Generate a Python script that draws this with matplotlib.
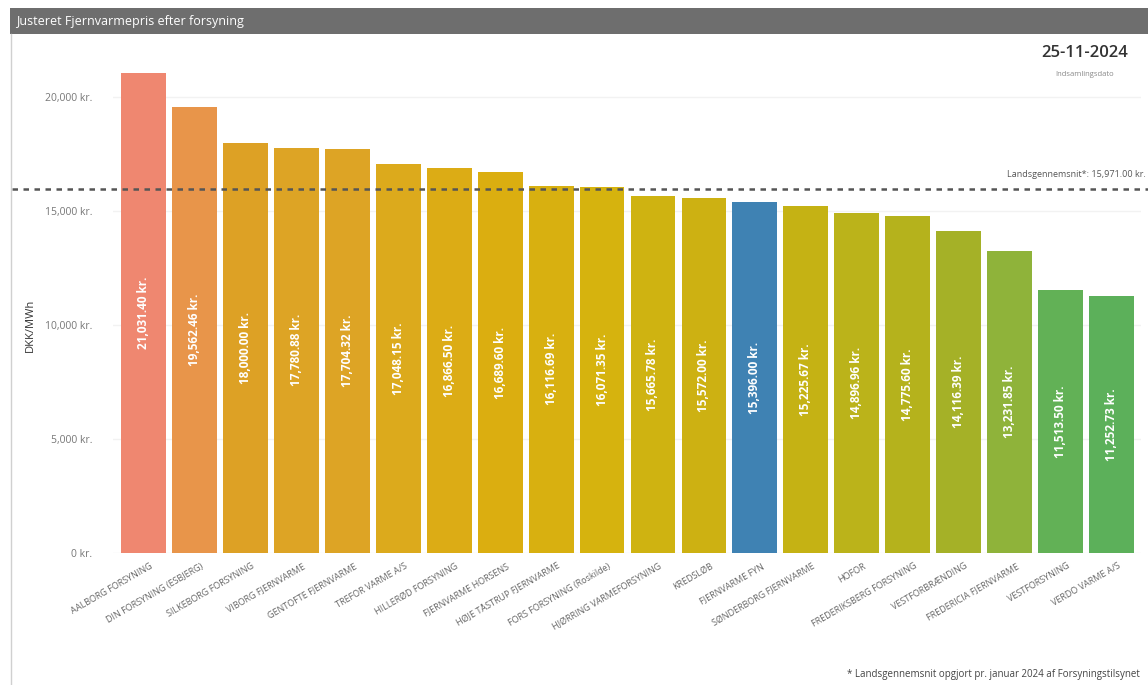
import matplotlib
matplotlib.use("Agg")
import matplotlib.pyplot as plt
from matplotlib.transforms import blended_transform_factory
from matplotlib.patches import Rectangle
from matplotlib.lines import Line2D

plt.rcParams['font.family'] = ['Open Sans', 'DejaVu Sans']

title = "Justeret Fjernvarmepris efter forsyning"
companies = ["AALBORG FORSYNING", "DIN FORSYNING (ESBJERG)", "SILKEBORG FORSYNING",
             "VIBORG FJERNVARME", "GENTOFTE FJERNVARME", "TREFOR VARME A/S",
             "HILLERØD FORSYNING", "FJERNVARME HORSENS", "HØJE TÅSTRUP FJERNVARME",
             "FORS FORSYNING (Roskilde)", "HJØRRING VARMEFORSYNING", "KREDSLØB",
             "FJERNVARME FYN", "SØNDERBORG FJERNVARME", "HOFOR",
             "FREDERIKSBERG FORSYNING", "VESTFORBRÆNDING", "FREDERICIA FJERNVARME",
             "VESTFORSYNING", "VERDO VARME A/S"]
prices = [21031.40, 19562.46, 18000.00, 17780.88, 17704.32, 17048.15, 16866.50,
          16689.60, 16116.69, 16071.35, 15665.78, 15572.00, 15396.00, 15225.67,
          14896.96, 14775.60, 14116.39, 13231.85, 11513.50, 11252.73]
colors = ["#EF8770", "#E8954A", "#DDA125", "#DDA425", "#DDA425", "#DCAA1C",
          "#DCAC15", "#DBAE10", "#D8B010", "#D6B30E", "#CFB311", "#CDB112",
          "#3F82B3", "#C5B214", "#BBB31A", "#B5B21C", "#A5B127", "#8FB33A",
          "#62B156", "#5CB05A"]
national_avg = 15971.00
yticks = [0, 5000, 10000, 15000, 20000]
date_text = "25-11-2024"
date_sub = "Indsamlingsdato"
avg_label = "Landsgennemsnit*: 15,971.00 kr."
footnote = "* Landsgennemsnit opgjort pr. januar 2024 af Forsyningstilsynet"
ylabel = "DKK/MWh"

W, H = 1148, 685
fig = plt.figure(figsize=(W / 100, H / 100), dpi=100)
fig.patch.set_facecolor("white")

# title bar
fig.patches.append(Rectangle((10 / W, 1 - 34 / H), 1 - 10 / W, 26 / H,
                             transform=fig.transFigure, facecolor="#6E6E6E",
                             edgecolor="none", zorder=0))
fig.text(16 / W, 1 - 21 / H, title, color="white", fontsize=9, va="center", ha="left")
# left border
fig.add_artist(Line2D([11 / W, 11 / W], [0, 1 - 34 / H], transform=fig.transFigure,
                      color="#D0D0D0", lw=1))

y0_px = 553
ymax = 21500
scale = 0.0228  # px per unit
top_px = y0_px - ymax * scale
ax = fig.add_axes([113 / W, (H - y0_px) / H, (1141 - 113) / W, (y0_px - top_px) / H])
n = len(prices)
x = list(range(n))
ax.bar(x, prices, width=0.88, color=colors, zorder=2)
ax.set_xlim(-0.6, n - 0.42)
ax.set_ylim(0, ymax)
ax.set_yticks(yticks)
ax.set_yticklabels([f"{v:,} kr." for v in yticks], fontsize=7.5, color="#777777")
ax.tick_params(axis="y", length=0, pad=15)
ax.tick_params(axis="x", length=0)
ax.set_xticks(x)
ax.set_xticklabels([])
for s in ax.spines.values():
    s.set_visible(False)
ax.grid(axis="y", color="#F2F2F2", lw=1, zorder=0)
ax.set_axisbelow(True)

for i, (c, p) in enumerate(zip(companies, prices)):
    ax.text(i, p / 2, f"{p:,.2f} kr.", rotation=90, ha="center", va="center",
            color="white", fontsize=8.5, fontweight="bold", zorder=3)
    ax.annotate(c, xy=(i, 0), xytext=(6, -9), textcoords="offset points",
                rotation=30, rotation_mode="anchor", ha="right", va="center",
                fontsize=6.5, color="#666666", annotation_clip=False)

fig.text(30 / W, (H - 325) / H, ylabel, rotation=90, fontsize=8, color="#333333",
         ha="center", va="center")

# national average dashed line spanning figure width
tr = blended_transform_factory(fig.transFigure, ax.transData)
ax.plot([12 / W, 1.0], [national_avg, national_avg], transform=tr, clip_on=False,
        color="#555555", lw=1.8, linestyle=(0, (2.2, 2.2)), zorder=4)
ax.annotate(avg_label, xy=(1146 / W, national_avg), xycoords=tr, xytext=(0, 7),
            textcoords="offset points", ha="right", va="bottom", fontsize=6.5,
            color="#555555", annotation_clip=False)

fig.text(1085 / W, 1 - 53 / H, date_text, fontsize=12, color="#333333",
         ha="center", va="center", fontweight="semibold")
fig.text(1085 / W, 1 - 74 / H, date_sub, fontsize=5.5, color="#888888",
         ha="center", va="center")
fig.text(1140 / W, 1 - 674 / H, footnote, fontsize=7, color="#444444",
         ha="right", va="center")

fig.savefig("out.png", dpi=100)
